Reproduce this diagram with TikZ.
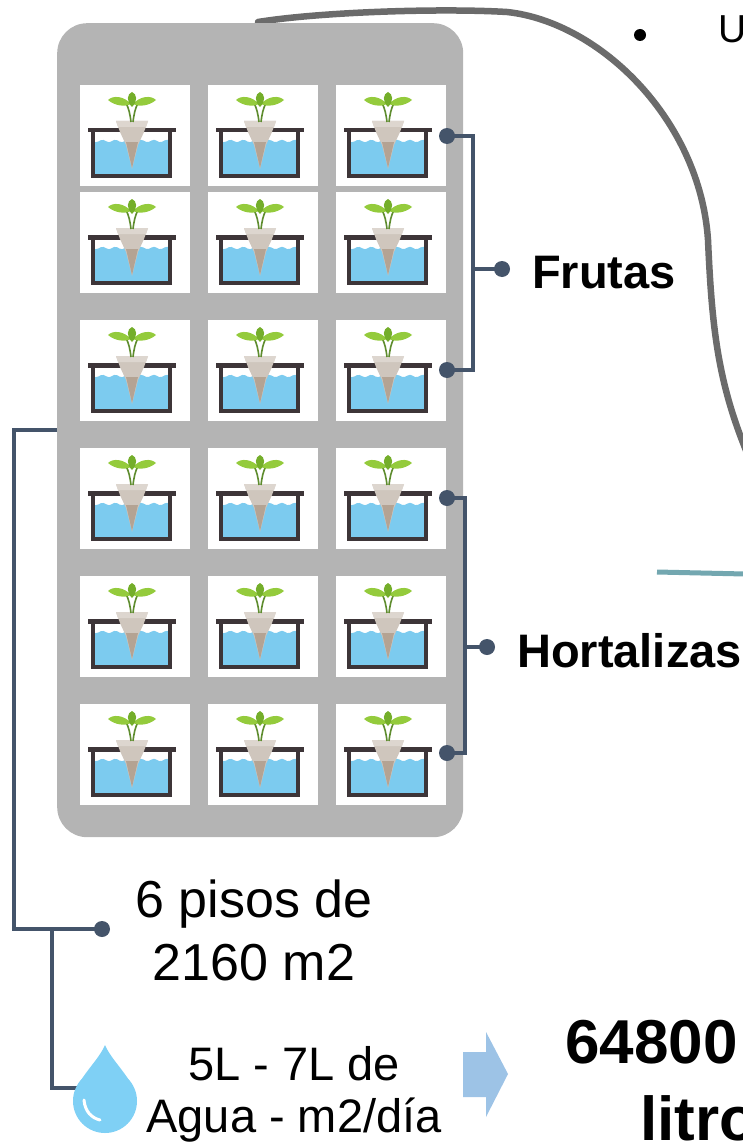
\documentclass[tikz,border=0pt]{standalone}
\usepackage{fontspec}
\setmainfont{Liberation Sans}
\definecolor{rackgray}{HTML}{B4B4B4}
\definecolor{linkblue}{HTML}{44546A}
\definecolor{waterblue}{HTML}{7CCBEF}
\definecolor{tankc}{HTML}{3D3538}
\definecolor{conec}{HTML}{CFC6BD}
\definecolor{conetopc}{HTML}{DDD6CF}
\definecolor{rootc}{HTML}{A38C78}
\definecolor{leafc}{HTML}{94CB3C}
\definecolor{leafdark}{HTML}{74AE2A}
\definecolor{stemc}{HTML}{5E8C2E}
\definecolor{curvegray}{HTML}{6B6B6B}
\definecolor{tealc}{HTML}{73A7B0}
\definecolor{dropc}{HTML}{7FD0F5}
\definecolor{arrowblue}{HTML}{9DC3E6}
\begin{document}
\begin{tikzpicture}[x=1pt,y=-1pt,
  rack/.style={fill=rackgray, rounded corners=30pt, inner sep=0, anchor=north west,
    minimum width=406pt, minimum height=814pt},
  cellbox/.style={fill=white, minimum width=110pt, minimum height=101pt, inner sep=0,
    anchor=north west},
  link/.style={draw=linkblue, line width=4.5pt},
  dot/.style={circle, fill=linkblue, inner sep=0, minimum size=16pt},
  bold label/.style={inner sep=0, anchor=base west, font=\fontsize{47}{56}\selectfont\bfseries},
  plain label/.style={inner sep=0, anchor=base, font=\fontsize{52}{62}\selectfont},
  water label/.style={inner sep=0, anchor=base, font=\fontsize{47}{56}\selectfont},
  big label/.style={inner sep=0, anchor=base west, font=\fontsize{62}{72}\selectfont\bfseries},
  plant/.pic={
    % water in the tank
    \fill[waterblue] (13,91) -- plot[domain=13:90, samples=30, smooth] (\x,{56+1.2*sin(\x*28)}) -- (90,91) -- cycle;
    % tank walls and rim
    \draw[tankc, line width=4.5pt, line join=miter] (13,45) -- (13,91) -- (90,91) -- (90,45);
    \fill[tankc] (8,43) rectangle (96,47.5);
    % net pot with roots
    \fill[conec] (36,36) -- (68,36) -- (64,47) -- (58,60) -- (52,84) -- (46,60) -- (40,47) -- cycle;
    \fill[conetopc] (36,36) -- (68,36) -- (66,42) -- (38,42) -- cycle;
    \fill[rootc, opacity=.6] (46,57) -- (58,57) -- (52,83) -- cycle;
    % seedling
    \draw[stemc, line width=1.6pt] (51,37) .. controls (50,29) and (49,24) .. (46,18);
    \draw[stemc, line width=1.6pt] (53,37) .. controls (54,29) and (55,24) .. (58,18);
    \fill[leafc] (51,19) .. controls (44,11) and (33,10) .. (28,15) .. controls (35,21) and (45,22) .. (51,19);
    \fill[leafc] (53,19) .. controls (60,11) and (71,10) .. (76,15) .. controls (69,21) and (59,22) .. (53,19);
    \fill[leafdark] (52,22) .. controls (46,16) and (47,9) .. (52,7) .. controls (57,9) and (58,16) .. (52,22);
  }
]
\useasboundingbox (0,0) rectangle (743,1145);
\clip (0,0) rectangle (743,1145);

% connector curve behind the rack
\draw[curvegray, line width=6.5pt, line cap=round]
  (258,22) .. controls (320,12) and (440,8) .. (507,12)
  .. controls (600,22) and (700,120) .. (708,240)
  .. controls (712,330) and (718,385) .. (750,460);

% rack with 6 x 3 growing cells
\node[rack] (rack) at (57,23) {};
\foreach \ry [count=\r] in {85,192,320,448,576,704}
  \foreach \cx [count=\c] in {80,208,336} {
    \node[cellbox] (cell-\r-\c) at (\cx,\ry) {};
    \pic at (\cx,\ry) {plant};
  }

% Frutas bracket
\node[dot] (fa) at (447,136) {};
\node[dot] (fb) at (447,370) {};
\node[dot] (fm) at (502,269) {};
\coordinate (fx) at (473,269);
\draw[link] (fa.center) -- (fa.center -| fx) -- (fb.center -| fx) -- (fb.center);
\draw[link] (fx) -- (fm.center);
\node[bold label] (frutas) at (532,288) {Frutas};

% Hortalizas bracket
\node[dot] (ha) at (447,498) {};
\node[dot] (hb) at (447,753) {};
\node[dot] (hm) at (487,647) {};
\coordinate (hx) at (465,647);
\draw[link] (ha.center) -- (ha.center -| hx) -- (hb.center -| hx) -- (hb.center);
\draw[link] (hx) -- (hm.center);
\node[bold label] (hortalizas) at (517,667) {Hortalizas};

% area and water bracket
\coordinate (rackside) at (57,430);
\node[dot] (pd) at (102,929) {};
\coordinate (dropin) at (77,1088);
\draw[link] (rackside) -- (14,430) -- (14,929) -- (pd.center);
\draw[link] (52,929) -- (52,1088) -- (dropin);

\node[plain label] (pisos1) at (254,917) {6 pisos de};
\node[plain label] (pisos2) at (254,980) {2160 m2};

% water drop
\fill[dropc] (105,1045) .. controls (98,1062) and (75,1080) .. (74,1099)
  -- (136,1099) .. controls (135,1080) and (112,1062) .. (105,1045) -- cycle;
\fill[dropc] (105,1101) circle[radius=32];
\draw[white, line width=3pt, line cap=round] (84,1100) .. controls (85,1112) and (92,1118) .. (100,1120);

\node[water label] (agua1) at (294,1080) {5L - 7L de};
\node[water label] (agua2) at (294,1132) {Agua - m2/día};

% result arrow
\fill[arrowblue] (463,1052) -- (486,1052) -- (486,1032) -- (508,1074) -- (486,1117)
  -- (486,1097) -- (463,1097) -- cycle;
\node[big label] (total1) at (565,1063) {64800};
\node[big label] (total2) at (640,1140) {litros};

% teal rule and bullet item
\draw[tealc, line width=5pt] (657,572) -- (745,574);
\node[circle, fill=black, inner sep=0, minimum size=12pt] (bul) at (640,35) {};
\node[inner sep=0, anchor=base west, font=\fontsize{39}{46}\selectfont] (item) at (718,43) {U};
\end{tikzpicture}
\end{document}
